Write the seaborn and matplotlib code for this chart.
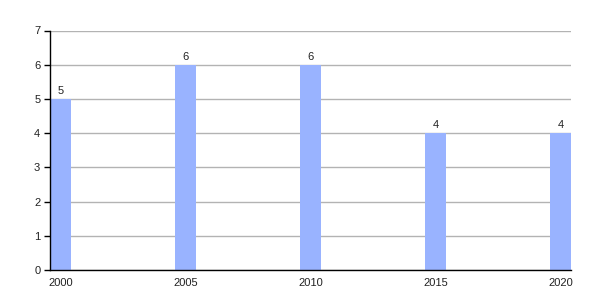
import matplotlib
matplotlib.use("Agg")
import matplotlib.pyplot as plt
import seaborn as sns
import pandas as pd

years = ["2000", "2005", "2010", "2015", "2020"]
values = [5, 6, 6, 4, 4]

sns.set_style("white")
plt.rcParams['font.family'] = ['Liberation Sans', 'DejaVu Sans']

df = pd.DataFrame({"year": years, "value": values})

fig = plt.figure(figsize=(6, 3), dpi=100)
ax = fig.add_axes([50/600, 30/300, 521/600, 239.5/300])

sns.barplot(data=df, x="year", y="value", color="#99b3ff", saturation=1,
            width=0.166, ax=ax, zorder=3, linewidth=0, edgecolor="none")

ax.set_xlim(-0.083, 4.083)
ax.set_ylim(0, 7)
ax.set_yticks(range(0, 8))
ax.yaxis.grid(True, color="#b3b3b3", linewidth=1, zorder=0)
ax.set_axisbelow(True)
ax.set_xlabel("")
ax.set_ylabel("")

for s in ["top", "right"]:
    ax.spines[s].set_visible(False)
for s in ["left", "bottom"]:
    ax.spines[s].set_color("black")
    ax.spines[s].set_linewidth(1)
    ax.spines[s].set_zorder(4)

ax.tick_params(axis="y", which="both", left=True, length=4, width=1, color="black",
               labelsize=8, pad=3, labelcolor="#222222")
ax.tick_params(axis="x", bottom=False, labelsize=8, pad=2, labelcolor="#222222")

for c in ax.containers:
    ax.bar_label(c, labels=[str(v) for v in values], padding=2, fontsize=8, color="#222222")

fig.savefig("out.png", dpi=100)
